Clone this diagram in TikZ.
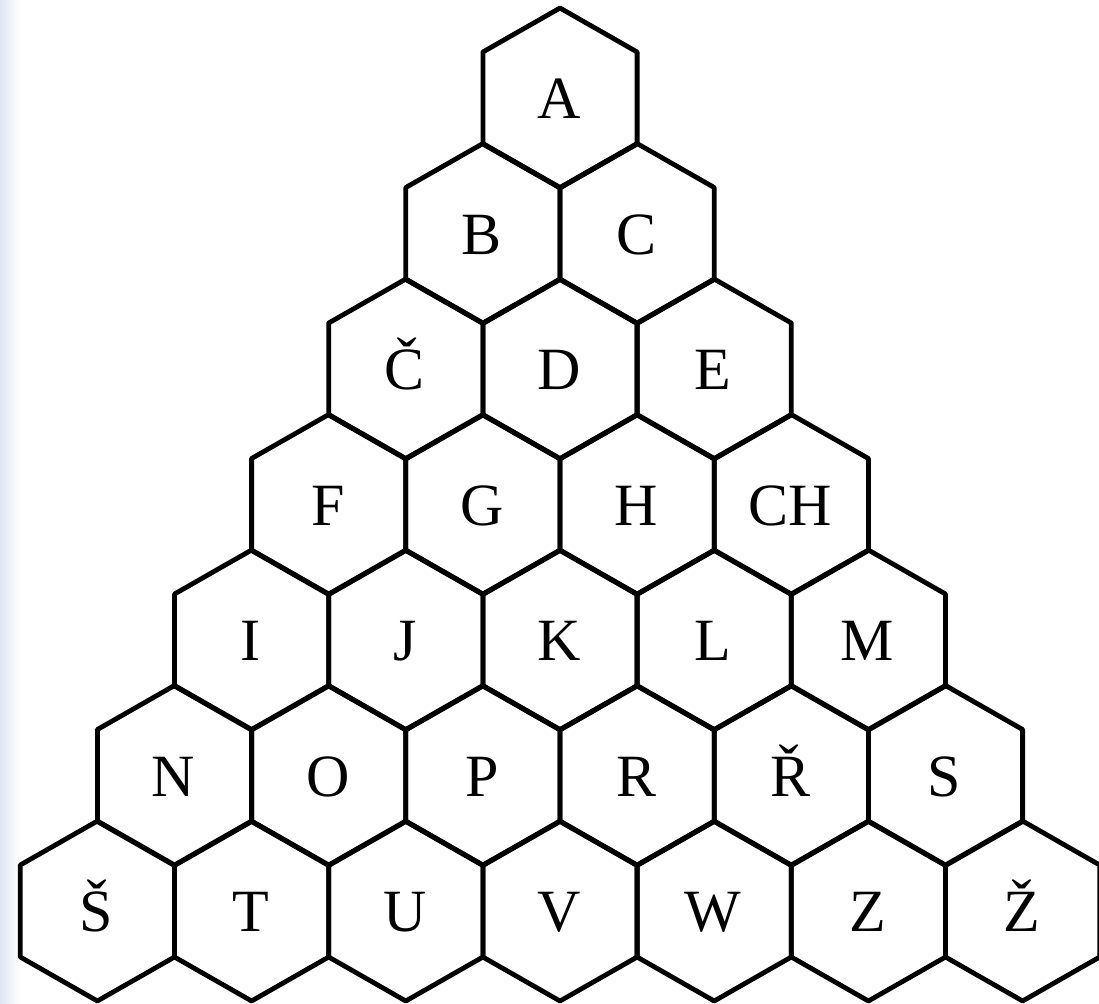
\documentclass[tikz,border=0pt]{standalone}
\usepackage{fontspec}
\setmainfont{Liberation Serif}
\definecolor{edgegrey}{RGB}{224,230,240}
\begin{document}
\begin{tikzpicture}[x=0.5pt,y=-0.5pt,
  hexlabel/.style={font=\fontsize{30}{30}\selectfont, text height=0.66em, text depth=0pt, inner sep=0pt},
  hexline/.style={line width=2.4pt, line join=round}]
\useasboundingbox (0,0) rectangle (1099,1003);
\shade[left color=edgegrey, right color=white] (0,0) rectangle (20,1003);
\foreach \r/\k/\t in {0/0/A,
  1/0/B, 1/1/C,
  2/0/Č, 2/1/D, 2/2/E,
  3/0/F, 3/1/G, 3/2/H, 3/3/CH,
  4/0/I, 4/1/J, 4/2/K, 4/3/L, 4/4/M,
  5/0/N, 5/1/O, 5/2/P, 5/3/R, 5/4/Ř, 5/5/S,
  6/0/Š, 6/1/T, 6/2/U, 6/3/V, 6/4/W, 6/5/Z, 6/6/Ž} {
  \pgfmathsetmacro\cx{560+77.1*(2*\k-\r)}
  \pgfmathsetmacro\cy{98+135.5*\r}
  \draw[hexline] (\cx,\cy-90) -- (\cx+77.1,\cy-46) -- (\cx+77.1,\cy+46) -- (\cx,\cy+90) -- (\cx-77.1,\cy+46) -- (\cx-77.1,\cy-46) -- cycle;
  \node[hexlabel] (n\r-\k) at (\cx-1,\cy+14) {\t};
}
\end{tikzpicture}
\end{document}
